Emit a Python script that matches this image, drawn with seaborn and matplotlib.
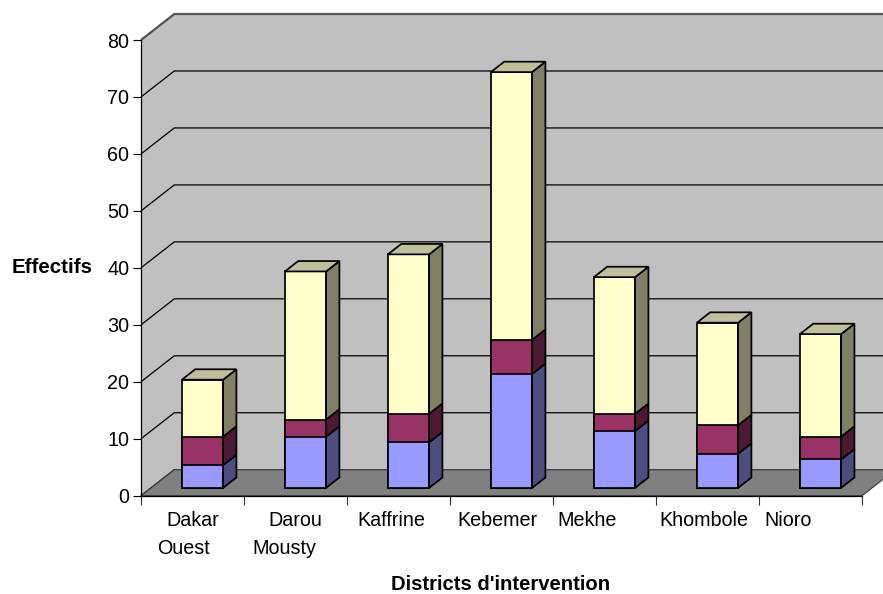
import matplotlib
matplotlib.use("Agg")
import matplotlib.pyplot as plt
from matplotlib.patches import Polygon
import numpy as np
import pandas as pd
import seaborn as sns

# ---- data -------------------------------------------------------------
districts = ["Dakar Ouest", "Darou Mousty", "Kaffrine", "Kebemer",
             "Mekhe", "Khombole", "Nioro"]
serie_bleue = [4, 9, 8, 20, 10, 6, 5]
serie_rouge = [5, 3, 5, 6, 3, 5, 4]
serie_jaune = [10, 26, 28, 47, 24, 18, 18]
y_ticks = [0, 10, 20, 30, 40, 50, 60, 70, 80]
x_title = "Districts d'intervention"
y_title = "Effectifs"

# ---- style ------------------------------------------------------------
sns.set_theme(style="white")
plt.rcParams["font.family"] = ["Liberation Sans", "DejaVu Sans"]
plt.rcParams["text.color"] = "black"
plt.rcParams["axes.labelcolor"] = "black"
plt.rcParams["xtick.color"] = "black"
plt.rcParams["ytick.color"] = "black"

W, H = 883, 594
fig = plt.figure(figsize=(W / 100, H / 100), dpi=100)
ax = fig.add_axes([0, 0, 1, 1])
ax.set_facecolor("white")

# pixel geometry of the front plane and depth vector
PX_CAT = 103.0          # pixels per category
PX_UNIT = 5.696         # pixels per value unit
X0_PX, Y0_PX = 141.0, 495.7
DX = 33.3 / PX_CAT      # depth offset in category units
DY = 26.0 / PX_UNIT     # depth offset in value units
D0, D1 = 0.30, 0.70     # depth span of the bars
BAR_W = 0.40
EDGE_LW = 1.25
YMAX = y_ticks[-1]
n = len(districts)


def proj(x, y, d):
    return (x + d * DX, y + d * DY)


# ---- stacked bars (front faces) via seaborn ---------------------------
df = pd.DataFrame({"district": districts,
                   "bleu": serie_bleue,
                   "rouge": serie_rouge,
                   "jaune": serie_jaune})
df["c1"] = df["bleu"]
df["c2"] = df["bleu"] + df["rouge"]
df["c3"] = df["c2"] + df["jaune"]

layers = [("c3", "#FFFFCC"), ("c2", "#993366"), ("c1", "#9999FF")]
for col, colr in layers:
    sns.barplot(data=df, x="district", y=col, order=districts, color=colr,
                saturation=1, width=BAR_W, edgecolor="black", linewidth=EDGE_LW,
                errorbar=None, ax=ax, zorder=3)

bar_patches = list(ax.patches)
fronts = bar_patches[:n]  # tallest layer gives each bar's footprint
for p in bar_patches:
    p.set_x(p.get_x() + D0 * DX)
    p.set_y(p.get_y() + D0 * DY)

# ---- axes frame -------------------------------------------------------
ax.set_xlim(-0.5 - X0_PX / PX_CAT, -0.5 + (W - X0_PX) / PX_CAT)
ax.set_ylim((Y0_PX - H) / PX_UNIT, Y0_PX / PX_UNIT)
ax.set_xlabel("")
ax.set_ylabel("")

wall_c, floor_c = "#C0C0C0", "#808080"
side_wall = [proj(-0.5, 0, 0), proj(-0.5, YMAX, 0), proj(-0.5, YMAX, 1), proj(-0.5, 0, 1)]
back_wall = [proj(-0.5, 0, 1), proj(-0.5, YMAX, 1), proj(n - 0.5, YMAX, 1), proj(n - 0.5, 0, 1)]
floor = [proj(-0.5, 0, 0), proj(n - 0.5, 0, 0), proj(n - 0.5, 0, 1), proj(-0.5, 0, 1)]
ax.add_patch(Polygon(side_wall, closed=True, facecolor=wall_c, edgecolor="none", zorder=0.5))
ax.add_patch(Polygon(back_wall, closed=True, facecolor=wall_c, edgecolor="none", zorder=0.5))
for v in y_ticks:
    pts = np.array([proj(-0.5, v, 0), proj(-0.5, v, 1), proj(n - 0.5, v, 1)])
    col = "#555555" if v == YMAX else "black"
    lw = 1.6 if v == YMAX else 0.9
    ax.plot(pts[:, 0], pts[:, 1], color=col, lw=lw, zorder=0.8, solid_capstyle="butt")
ax.add_patch(Polygon(floor, closed=True, facecolor=floor_c, edgecolor="#404040",
                     linewidth=0.9, zorder=1))

# ---- side and top faces of each bar -----------------------------------
side_cols = ["#4D4D80", "#4D1A33", "#808066"]
top_col = "#BFBF99"
stacks = list(zip(df["c1"], df["c2"], df["c3"]))
for i, p in enumerate(fronts):
    xl = p.get_x() - D0 * DX
    xr = xl + p.get_width()
    bounds = [0.0] + list(stacks[i])
    for k in range(3):
        lo, hi = bounds[k], bounds[k + 1]
        face = [proj(xr, lo, D0), proj(xr, hi, D0), proj(xr, hi, D1), proj(xr, lo, D1)]
        ax.add_patch(Polygon(face, closed=True, facecolor=side_cols[k],
                             edgecolor="black", linewidth=EDGE_LW, zorder=3))
    top = bounds[-1]
    face = [proj(xl, top, D0), proj(xr, top, D0), proj(xr, top, D1), proj(xl, top, D1)]
    ax.add_patch(Polygon(face, closed=True, facecolor=top_col,
                         edgecolor="black", linewidth=EDGE_LW, zorder=3))

# ---- spines and ticks -------------------------------------------------
for s in ["top", "right"]:
    ax.spines[s].set_visible(False)
ax.spines["left"].set_position(("data", -0.5))
ax.spines["left"].set_bounds(0, YMAX)
ax.spines["bottom"].set_position(("data", 0))
ax.spines["bottom"].set_bounds(-0.5, n - 0.5)
for s in ["left", "bottom"]:
    ax.spines[s].set_color("black")
    ax.spines[s].set_linewidth(0.9)
    ax.spines[s].set_zorder(2)

ax.set_yticks(y_ticks)
ax.set_yticklabels([str(v) for v in y_ticks])
ax.set_xticks(np.arange(-0.5, n, 1.0))
ax.set_xticklabels([])
ax.tick_params(axis="y", direction="out", length=5.5, width=0.8, color="black",
               labelcolor="black", pad=3.0, labelsize=14.2, left=True)
ax.tick_params(axis="x", direction="out", length=6.5, width=0.8, color="#333333",
               bottom=True)

# ---- category labels (wrapped as in the axis) -------------------------
label_lines = [["Dakar", "Ouest"], ["Darou", "Mousty"], ["Kaffrine"], ["Kebemer"],
               ["Mekhe"], ["Khombole"], ["Nioro"]]
line_shift = [[0.5, -8.5], [-0.5, -11.5], [-7.5], [-4.5], [-17.5], [-3.5], [-22.5]]
for i, lines in enumerate(label_lines):
    cx = X0_PX + (i + 0.5) * PX_CAT
    for j, txt in enumerate(lines):
        fig.text((cx + line_shift[i][j]) / W, 1 - (521 + 28 * j) / H, txt,
                 ha="center", va="center", fontsize=14.2, color="black")

fig.text(52 / W, 1 - 268 / H, y_title, ha="center", va="center",
         fontsize=14.8, fontweight="bold", color="black")
fig.text(501 / W, 1 - 584 / H, x_title, ha="center", va="center",
         fontsize=14.6, fontweight="bold", color="black")

fig.savefig("out.png", dpi=100)
